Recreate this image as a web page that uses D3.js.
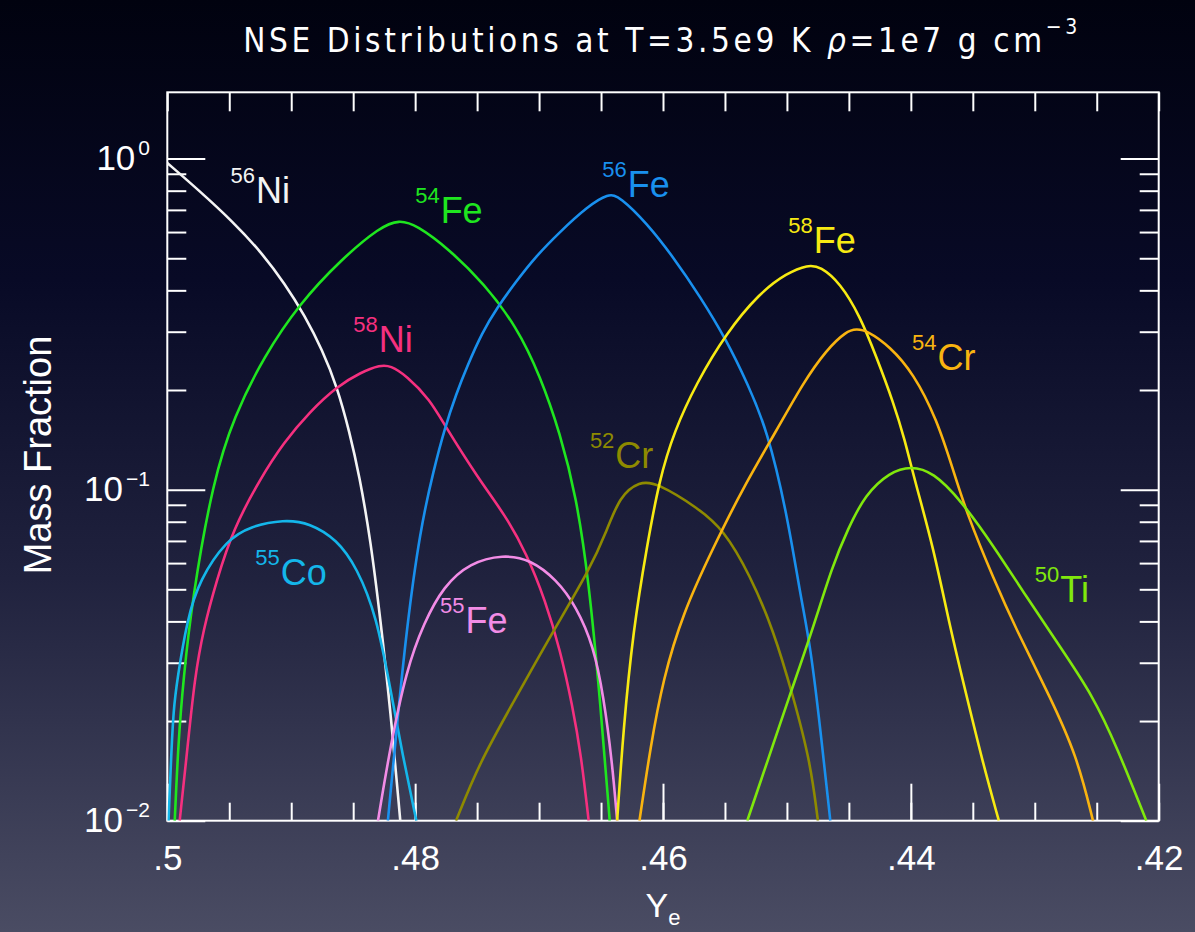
<!DOCTYPE html>
<html>
<head>
<meta charset="utf-8">
<script src="https://cdn.jsdelivr.net/npm/d3@7"></script>
<style>
  html, body { margin: 0; padding: 0; background: #000; }
  svg { display: block; }
</style>
</head>
<body>
<div id="chart"></div>
<script>
// Mass fraction vs Ye: [Ye, X]
const ni56 = [[0.5000,0.970],[0.4974,0.799],[0.4947,0.644],[0.4925,0.526],[0.4905,0.4185],[0.4889,0.335],[0.4875,0.2646],[0.4863,0.2046],[0.4853,0.1496],[0.4845,0.1102],[0.4836,0.0706],[0.4828,0.0405],[0.4820,0.0217],[0.4812,0.0100]];
const fe54 = [[0.4994,0.0100],[0.4991,0.0176],[0.4987,0.0267],[0.4980,0.0466],[0.4963,0.107],[0.4946,0.167],[0.4922,0.253],[0.4893,0.366],[0.4860,0.495],[0.4828,0.623],[0.4813,0.653],[0.4799,0.631],[0.4772,0.530],[0.4745,0.421],[0.4718,0.311],[0.4699,0.220],[0.4683,0.148],[0.4670,0.0954],[0.4660,0.0535],[0.4651,0.0238],[0.4643,0.0100]];
const ni58 = [[0.4990,0.0100],[0.4983,0.0176],[0.4978,0.0267],[0.4971,0.0378],[0.4960,0.0535],[0.4947,0.0757],[0.4925,0.108],[0.4906,0.139],[0.4885,0.172],[0.4863,0.205],[0.4844,0.226],[0.4828,0.238],[0.4820,0.237],[0.4807,0.221],[0.4788,0.187],[0.4776,0.156],[0.4749,0.108],[0.4727,0.0834],[0.4710,0.0640],[0.4695,0.0463],[0.4683,0.0328],[0.4673,0.0222],[0.4666,0.0157],[0.4660,0.0100]];
const co55 = [[0.4999,0.0100],[0.4997,0.0153],[0.4995,0.0217],[0.4992,0.0267],[0.4984,0.0405],[0.4974,0.0535],[0.4952,0.0706],[0.4933,0.0775],[0.4906,0.0812],[0.4885,0.0793],[0.4863,0.0706],[0.4847,0.0582],[0.4831,0.0414],[0.4820,0.0250],[0.4810,0.0157],[0.4799,0.0100]];
const fe56 = [[0.4822,0.0100],[0.4815,0.0189],[0.4807,0.0378],[0.4796,0.0757],[0.4785,0.115],[0.4776,0.154],[0.4767,0.194],[0.4758,0.236],[0.4746,0.298],[0.4734,0.354],[0.4719,0.423],[0.4704,0.500],[0.4683,0.602],[0.4661,0.716],[0.4644,0.786],[0.4635,0.768],[0.4613,0.638],[0.4592,0.506],[0.4570,0.383],[0.4549,0.284],[0.4532,0.210],[0.4516,0.152],[0.4500,0.0850],[0.4489,0.0476],[0.4481,0.0337],[0.4473,0.0189],[0.4465,0.0100]];
const fe55 = [[0.4830,0.0100],[0.4820,0.0168],[0.4807,0.0286],[0.4793,0.0396],[0.4777,0.0511],[0.4756,0.0601],[0.4729,0.0637],[0.4707,0.0615],[0.4686,0.0535],[0.4670,0.0444],[0.4656,0.0337],[0.4648,0.0238],[0.4641,0.0150],[0.4637,0.0100]];
const cr52 = [[0.4767,0.0100],[0.4748,0.0150],[0.4721,0.0227],[0.4691,0.0361],[0.4659,0.0574],[0.4645,0.0757],[0.4635,0.0954],[0.4619,0.106],[0.4605,0.105],[0.4572,0.0882],[0.4551,0.0757],[0.4530,0.0554],[0.4511,0.0378],[0.4495,0.0238],[0.4481,0.0150],[0.4475,0.0100]];
const fe58 = [[0.4637,0.0100],[0.4632,0.0189],[0.4624,0.0378],[0.4613,0.0674],[0.4603,0.107],[0.4591,0.150],[0.4573,0.210],[0.4549,0.297],[0.4522,0.393],[0.4500,0.451],[0.4483,0.478],[0.4473,0.472],[0.4457,0.421],[0.4441,0.334],[0.4428,0.253],[0.4414,0.183],[0.4405,0.142],[0.4397,0.107],[0.4382,0.0674],[0.4368,0.0378],[0.4355,0.0238],[0.4342,0.0150],[0.4329,0.0100]];
const cr54 = [[0.4619,0.0100],[0.4610,0.0168],[0.4600,0.0267],[0.4584,0.0424],[0.4559,0.0674],[0.4535,0.102],[0.4507,0.154],[0.4487,0.210],[0.4468,0.265],[0.4452,0.301],[0.4444,0.306],[0.4435,0.302],[0.4417,0.271],[0.4398,0.225],[0.4379,0.163],[0.4366,0.115],[0.4355,0.0850],[0.4333,0.0535],[0.4315,0.0378],[0.4288,0.0238],[0.4266,0.0157],[0.4253,0.0100]];
const ti50 = [[0.4532,0.0100],[0.4516,0.0150],[0.4498,0.0238],[0.4481,0.0361],[0.4463,0.0594],[0.4451,0.0757],[0.4437,0.0966],[0.4417,0.113],[0.4400,0.118],[0.4382,0.113],[0.4360,0.0933],[0.4333,0.0674],[0.4307,0.0476],[0.4280,0.0337],[0.4253,0.0238],[0.4234,0.0168],[0.4210,0.0100]];

const seriesData   = [ni56, fe54, ni58, co55, fe56, fe55, cr52, fe58, cr54, ti50];
const massNumbers  = ["56", "54", "58", "55", "56", "55", "52", "58", "54", "50"];
const elements     = ["Ni", "Fe", "Ni", "Co", "Fe", "Fe", "Cr", "Fe", "Cr", "Ti"];
const seriesColors = ["#f4f4f4", "#1fe61f", "#f5307f", "#14b6ea", "#1990ee", "#f28ce6", "#8e8a00", "#f7ea12", "#f9b410", "#80e80c"];
// label anchor (start of mass number, element baseline) in data units
const labelYe = [0.4949, 0.4800, 0.4850, 0.4929, 0.4649, 0.4780, 0.4659, 0.4499, 0.4399, 0.4300];
const labelX  = [0.735, 0.640, 0.261, 0.0516, 0.766, 0.0370, 0.1165, 0.519, 0.2303, 0.0459];

const xMajorTicks = [0.5, 0.48, 0.46, 0.44, 0.42];
const xTickLabels = [".5", ".48", ".46", ".44", ".42"];
const yMajorTicks = [1, 0.1, 0.01];
const yTickExps   = ["0", "\u22121", "\u22122"];

const width = 1195, height = 932;
const plot = { left: 167.3, right: 1158.7, top: 92.3, bottom: 820.7 };
const font = "'Liberation Sans', Helvetica, Arial, sans-serif";

const svg = d3.select("#chart").append("svg")
  .attr("width", width)
  .attr("height", height);

// background
const defs = svg.append("defs");
const bg = defs.append("linearGradient").attr("id", "bg")
  .attr("x1", 0).attr("y1", 0).attr("x2", 0).attr("y2", 1);
bg.append("stop").attr("offset", "0%").attr("stop-color", "#01020f");
bg.append("stop").attr("offset", "30%").attr("stop-color", "#080a26");
bg.append("stop").attr("offset", "62%").attr("stop-color", "#20223e");
bg.append("stop").attr("offset", "100%").attr("stop-color", "#4a4c63");
svg.append("rect").attr("width", width).attr("height", height).attr("fill", "url(#bg)");

defs.append("clipPath").attr("id", "plot-clip").append("rect")
  .attr("x", plot.left).attr("y", plot.top)
  .attr("width", plot.right - plot.left).attr("height", plot.bottom - plot.top);

const x = d3.scaleLinear().domain([0.5, 0.42]).range([plot.left, plot.right]);
const y = d3.scaleLog().domain([0.01, 1.586]).range([plot.bottom, plot.top]);

const xMinor = d3.range(0, 17).map(i => +(0.5 - i * 0.005).toFixed(3));
const yMinor = [2, 3, 4, 5, 6, 7, 8, 9].flatMap(m => [m * 0.01, m * 0.1]);

function styleAxis(sel) {
  sel.select(".domain").remove();
  sel.selectAll(".tick line").attr("stroke", "#fff").attr("stroke-width", 2);
}

// bottom: minor + major ticks pointing inward
svg.append("g").attr("transform", `translate(0,${plot.bottom})`)
  .call(d3.axisBottom(x).tickValues(xMinor).tickSize(-18).tickFormat(""))
  .call(styleAxis);
const xAxisMajor = svg.append("g").attr("transform", `translate(0,${plot.bottom})`)
  .call(d3.axisBottom(x).tickValues(xMajorTicks).tickSize(-37)
    .tickFormat((d, i) => xTickLabels[i]))
  .call(styleAxis);
xAxisMajor.selectAll(".tick text")
  .attr("y", 49).attr("dy", 0)
  .attr("fill", "#fff").attr("font-family", font).attr("font-size", 35);

// top
svg.append("g").attr("transform", `translate(0,${plot.top})`)
  .call(d3.axisTop(x).tickValues(xMinor).tickSize(-19).tickFormat(""))
  .call(styleAxis);

// left / right
[d3.axisLeft, d3.axisRight].forEach((axisFn, k) => {
  const pos = k === 0 ? plot.left : plot.right;
  svg.append("g").attr("transform", `translate(${pos},0)`)
    .call(axisFn(y).tickValues(yMinor).tickSize(-19).tickFormat(""))
    .call(styleAxis);
  svg.append("g").attr("transform", `translate(${pos},0)`)
    .call(axisFn(y).tickValues(yMajorTicks).tickSize(-38).tickFormat(""))
    .call(styleAxis);
});

// y tick labels 10^n
const yLab = svg.append("g").attr("fill", "#fff").attr("font-family", font);
yMajorTicks.forEach((v, i) => {
  const t = yLab.append("text")
    .attr("x", 150).attr("y", y(v) + 11)
    .attr("text-anchor", "end");
  t.append("tspan").attr("font-size", 35).text("10");
  t.append("tspan").attr("font-size", 21).attr("dy", -15).attr("dx", 3).text(yTickExps[i]);
});

// frame
svg.append("rect")
  .attr("x", plot.left).attr("y", plot.top)
  .attr("width", plot.right - plot.left).attr("height", plot.bottom - plot.top)
  .attr("fill", "none").attr("stroke", "#fff").attr("stroke-width", 2);

// curves (B-spline evens out reading noise between points)
const line = d3.line()
  .x(d => x(d[0]))
  .y(d => y(d[1]))
  .curve(d3.curveBasis);

svg.append("g").attr("clip-path", "url(#plot-clip)")
  .selectAll("path")
  .data(seriesData)
  .join("path")
  .attr("fill", "none")
  .attr("stroke", (d, i) => seriesColors[i])
  .attr("stroke-width", 2.6)
  .attr("stroke-linejoin", "round")
  .attr("d", line);

// isotope labels
const labels = svg.append("g").attr("font-family", font);
seriesData.forEach((d, i) => {
  const t = labels.append("text")
    .attr("x", x(labelYe[i])).attr("y", y(labelX[i]))
    .attr("fill", seriesColors[i]);
  t.append("tspan").attr("font-size", 22).attr("dy", -20).text(massNumbers[i]);
  t.append("tspan").attr("font-size", 36).attr("dy", 20).attr("dx", 1).text(elements[i]);
});

// title
const title = svg.append("text")
  .attr("x", 662).attr("y", 52)
  .attr("text-anchor", "middle")
  .attr("fill", "#fff")
  .attr("font-family", "'DejaVu Sans Condensed', 'Liberation Sans Narrow', " + font)
  .attr("font-size", 33)
  .attr("letter-spacing", 3.6);
title.append("tspan").text("NSE Distributions at T=3.5e9 K ");
title.append("tspan").attr("font-style", "italic").text("\u03c1");
title.append("tspan").text("=1e7 g cm");
title.append("tspan").attr("font-size", 21).attr("dy", -18).text("\u22123");

// axis titles
const xt = svg.append("text")
  .attr("x", 663).attr("y", 917)
  .attr("text-anchor", "middle")
  .attr("fill", "#fff").attr("font-family", font).attr("font-size", 34);
xt.append("tspan").text("Y");
xt.append("tspan").attr("font-size", 22).attr("dy", 8).text("e");

svg.append("text")
  .attr("transform", "translate(51,455) rotate(-90)")
  .attr("text-anchor", "middle")
  .attr("fill", "#fff").attr("font-family", font).attr("font-size", 38)
  .text("Mass Fraction");
</script>
</body>
</html>
